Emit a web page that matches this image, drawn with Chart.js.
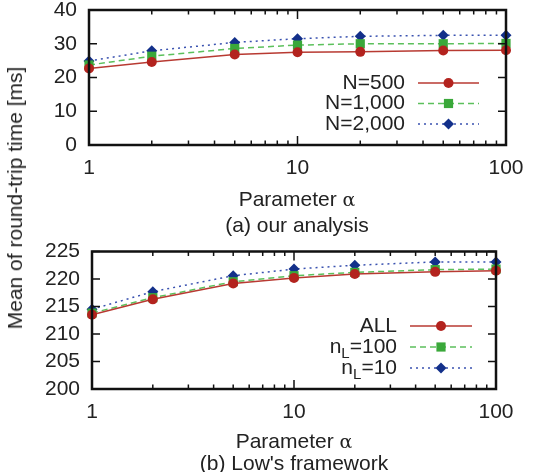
<!DOCTYPE html>
<html>
<head>
<meta charset="utf-8">
<script src="https://cdn.jsdelivr.net/npm/chart.js@4.4.1/dist/chart.umd.min.js"></script>
<style>
  html, body { margin: 0; padding: 0; background: #fff; }
  body { width: 533px; height: 472px; position: relative; overflow: hidden; font-family: "Liberation Sans", Arial, sans-serif; color: #222; }
  .box { position: absolute; left: 0; width: 533px; }
  .cap { position: absolute; font-size: 21px; line-height: 24px; white-space: nowrap; transform: translateX(-50%); }
  .greek { font-family: "DejaVu Serif", serif; font-size: 19px; }
  #ytitle { position: absolute; left: 15px; top: 198px; font-size: 21px; line-height: 24px; white-space: nowrap;
            transform: translate(-50%, -50%) rotate(-90deg); }
</style>
</head>
<body>
<div class="box" style="top:-10px;height:200px"><canvas id="chartA"></canvas></div>
<div class="box" style="top:220px;height:252px"><canvas id="chartB"></canvas></div>
<div id="ytitle">Mean of round-trip time [ms]</div>
<div class="cap" style="left:297px;top:187px">Parameter <span class="greek">α</span></div>
<div class="cap" style="left:297px;top:213px">(a) our analysis</div>
<div class="cap" style="left:294px;top:429px">Parameter <span class="greek">α</span></div>
<div class="cap" style="left:294px;top:451px">(b) Low's framework</div>
<script>
// x values (parameter alpha)
const alphaValues = [1, 2, 5, 10, 20, 50, 100];
const xTickValues = [1, 2, 3, 4, 5, 6, 7, 8, 9, 10, 20, 30, 40, 50, 60, 70, 80, 90, 100];

// (a) our analysis
const labelsA = ['N=500', 'N=1,000', 'N=2,000'];
const n500 = [22.7, 24.6, 26.8, 27.5, 27.6, 28.0, 28.1];
const n1000 = [23.7, 26.3, 28.6, 29.6, 30.0, 30.0, 30.1];
const n2000 = [24.9, 27.9, 30.4, 31.5, 32.2, 32.5, 32.5];

// (b) Low's framework
const labelsB = ['ALL', 'n_L=100', 'n_L=10'];
const allNodes = [213.5, 216.3, 219.2, 220.2, 220.9, 221.3, 221.5];
const nl100 = [213.8, 216.6, 219.5, 220.6, 221.2, 221.7, 221.8];
const nl10 = [214.5, 217.7, 220.6, 221.8, 222.5, 223.1, 223.1];

const FONT = '"Liberation Sans", Arial, sans-serif';
const styles = [
    { color: '#b3231e', line: '#b83a32', point: 'circle', radius: 5, dash: [] },
    { color: '#3aa83a', line: '#5cc05c', point: 'rect', radius: 6.5, dash: [6, 4] },
    { color: '#13308a', line: '#3a52b0', point: 'rectRot', radius: 5.5, dash: [2, 4] }
];

function makeDatasets(labels, series) {
    return series.map((vals, i) => ({
        label: labels[i],
        data: alphaValues.map((a, j) => ({ x: a, y: vals[j] })),
        borderColor: styles[i].line,
        borderWidth: 1.5,
        borderDash: styles[i].dash,
        backgroundColor: styles[i].color,
        pointStyle: styles[i].point,
        pointRadius: styles[i].radius,
        pointBackgroundColor: styles[i].color,
        pointBorderWidth: 0,
        tension: 0,
        clip: false
    }));
}

function drawMarker(ctx, style, x, y) {
    const r = style.radius;
    ctx.fillStyle = style.color;
    ctx.beginPath();
    if (style.point === 'circle') {
        ctx.arc(x, y, r, 0, Math.PI * 2);
    } else if (style.point === 'rect') {
        const s = r * Math.SQRT1_2;
        ctx.rect(x - s, y - s, 2 * s, 2 * s);
    } else {
        ctx.moveTo(x, y - r); ctx.lineTo(x + r, y); ctx.lineTo(x, y + r); ctx.lineTo(x - r, y);
        ctx.closePath();
    }
    ctx.fill();
}

// frame, inward ticks (gnuplot style) and legend
const framePlugin = {
    id: 'frame',
    afterDatasetsDraw(chart, args, opts) {
        const ctx = chart.ctx;
        const a = chart.chartArea;
        const xs = chart.scales.x, ys = chart.scales.y;
        ctx.save();
        ctx.strokeStyle = '#111';
        ctx.lineWidth = 1.5;
        ctx.beginPath();
        xs.ticks.forEach(t => {
            const px = xs.getPixelForValue(t.value);
            const major = Math.abs(Math.log10(t.value) % 1) < 1e-9;
            const len = major ? 9 : 4.5;
            ctx.moveTo(px, a.bottom); ctx.lineTo(px, a.bottom - len);
            ctx.moveTo(px, a.top); ctx.lineTo(px, a.top + len);
        });
        ys.ticks.forEach(t => {
            const py = ys.getPixelForValue(t.value);
            ctx.moveTo(a.left, py); ctx.lineTo(a.left + 8, py);
            ctx.moveTo(a.right, py); ctx.lineTo(a.right - 8, py);
        });
        ctx.stroke();
        ctx.lineWidth = 2.5;
        ctx.strokeRect(a.left, a.top, a.right - a.left, a.bottom - a.top);

        // legend
        ctx.textBaseline = 'middle';
        ctx.textAlign = 'right';
        opts.labels.forEach((text, i) => {
            const y = a.top + opts.rowTop + i * opts.rowGap;
            const textRight = a.right - opts.textOff;
            ctx.fillStyle = '#222';
            const parts = text.split('_');
            if (parts.length === 2) {
                const rest = parts[1].slice(1);
                ctx.font = '21px ' + FONT;
                const wRest = ctx.measureText(rest).width;
                ctx.fillText(rest, textRight, y);
                ctx.font = '15px ' + FONT;
                const wSub = ctx.measureText(parts[1][0]).width;
                ctx.fillText(parts[1][0], textRight - wRest, y + 7);
                ctx.font = '21px ' + FONT;
                ctx.fillText(parts[0], textRight - wRest - wSub, y);
            } else {
                ctx.font = '21px ' + FONT;
                ctx.fillText(text, textRight, y);
            }
            const st = styles[i];
            ctx.strokeStyle = st.line;
            ctx.lineWidth = 1.5;
            ctx.setLineDash(st.dash);
            ctx.beginPath();
            ctx.moveTo(a.right - opts.lineStart, y);
            ctx.lineTo(a.right - opts.lineEnd, y);
            ctx.stroke();
            ctx.setLineDash([]);
            drawMarker(ctx, st, (2 * a.right - opts.lineStart - opts.lineEnd) / 2, y);
        });
        ctx.restore();
    }
};

function makeChart(id, datasets, yMin, yMax, yStep, yWidth, xHeight, pad, legend) {
    return new Chart(document.getElementById(id), {
        type: 'line',
        data: { datasets: datasets },
        plugins: [framePlugin],
        options: {
            responsive: true,
            maintainAspectRatio: false,
            animation: false,
            layout: { padding: pad },
            plugins: {
                legend: { display: false },
                tooltip: { enabled: false },
                frame: legend
            },
            scales: {
                x: {
                    type: 'logarithmic',
                    min: 1,
                    max: 100,
                    grid: { display: false, drawTicks: false },
                    border: { display: false },
                    afterBuildTicks: s => { s.ticks = xTickValues.map(v => ({ value: v })); },
                    afterFit: s => {
                        s.height = xHeight;
                        s.paddingLeft = 0; s.paddingRight = 0;
                    },
                    ticks: {
                        autoSkip: false,
                        maxRotation: 0,
                        padding: 11,
                        color: '#222',
                        font: { family: FONT, size: 21 },
                        callback: v => ([1, 10, 100].includes(v) ? String(v) : '')
                    }
                },
                y: {
                    min: yMin,
                    max: yMax,
                    grid: { display: false, drawTicks: false },
                    border: { display: false },
                    afterFit: s => {
                        s.width = yWidth;
                        s.paddingTop = 0; s.paddingBottom = 0;
                    },
                    ticks: {
                        stepSize: yStep,
                        autoSkip: false,
                        padding: 12,
                        color: '#222',
                        font: { family: FONT, size: 21 }
                    }
                }
            }
        }
    });
}

makeChart('chartA', makeDatasets(labelsA, [n500, n1000, n2000]), 0, 40, 10, 89, 45,
    { top: 20, right: 27, left: 0, bottom: 0 },
    { labels: labelsA, rowTop: 73, rowGap: 20.5, textOff: 101, lineStart: 88, lineEnd: 27 });

makeChart('chartB', makeDatasets(labelsB, [allNodes, nl100, nl10]), 200, 225, 5, 92, 83,
    { top: 31.5, right: 37, left: 0, bottom: 0 },
    { labels: labelsB, rowTop: 74.5, rowGap: 21, textOff: 99, lineStart: 86, lineEnd: 24 });
</script>
</body>
</html>
